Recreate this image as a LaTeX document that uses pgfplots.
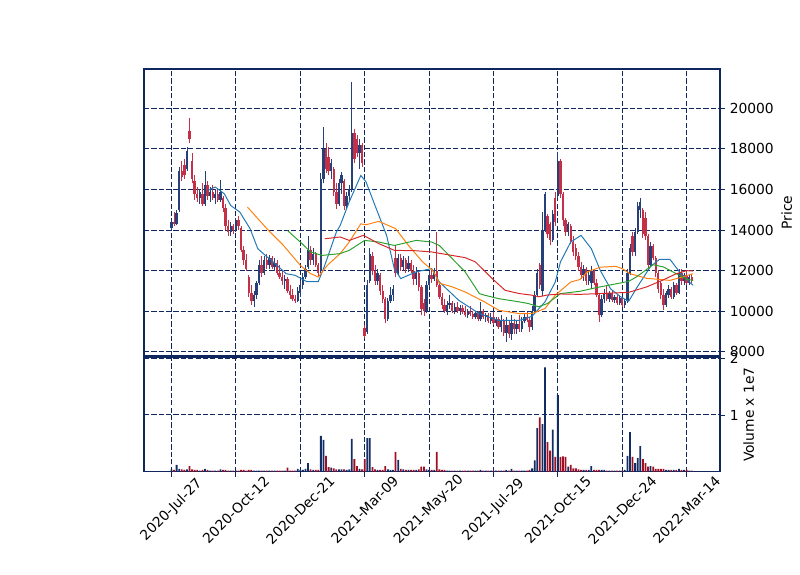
\documentclass[border=0pt]{standalone}
\usepackage{fontspec}
\setmainfont{DejaVu Sans}
\usepackage{pgfplots}
\usepackage{pgfplotstable}
\pgfplotsset{compat=1.18}

\definecolor{frame}{RGB}{16,38,94}
\definecolor{cup}{RGB}{38,64,122}
\definecolor{cdn}{RGB}{196,48,72}
\definecolor{vup}{RGB}{18,44,100}
\definecolor{vdn}{RGB}{160,14,35}
\definecolor{mblue}{RGB}{31,119,180}
\definecolor{morange}{RGB}{255,127,14}
\definecolor{mgreen}{RGB}{44,160,44}
\definecolor{mred}{RGB}{214,39,40}

% x = trading-day index, o h l c = price, v = volume in 1e7
\pgfplotstableread{
x o h l c v
0 14100 14500 13950 14400 0.04
2 14400 14900 14200 14300 0.03
4 14300 15000 14250 14850 0.12
6 15000 17100 14900 16900 0.05
8 16900 17400 16400 16600 0.04
10 17200 17500 16500 16700 0.03
12 17000 18100 16900 17900 0.04
14 18900 19500 18300 18500 0.10
16 17400 17800 16300 16500 0.04
18 16400 16700 15500 15800 0.03
20 15800 16100 15400 15600 0.03
22 15600 16000 15300 15900 0.02
24 15800 16300 15200 15300 0.03
26 15300 16900 15200 16200 0.05
28 16200 16400 15500 15700 0.03
30 15700 16100 15400 15900 0.02
32 15900 16200 15500 15600 0.02
34 15600 16000 15300 15800 0.02
36 15800 16000 15400 15500 0.02
38 15500 16470 15400 15900 0.04
40 15600 15700 14900 15100 0.03
42 15100 15300 14000 14200 0.03
44 14200 14500 13700 13900 0.02
46 13900 14400 13700 14200 0.02
48 14200 14300 13800 14000 0.02
50 14000 14600 13900 14500 0.02
52 14500 14700 14000 14200 0.02
54 14100 14200 12900 13000 0.03
56 13000 13200 12300 12500 0.03
58 12500 12800 12000 12100 0.02
60 11700 11800 10700 10900 0.03
62 10900 11300 10300 10500 0.03
64 10500 11000 10230 10800 0.02
66 10800 11500 10600 11400 0.02
68 11400 12500 11300 12300 0.02
70 12300 12700 11700 11900 0.02
72 11900 12700 11800 12500 0.02
74 12500 12800 12100 12300 0.02
76 12300 12750 12100 12600 0.02
78 12600 12700 12100 12200 0.02
80 12200 12600 12000 12400 0.02
82 12400 12500 11800 11900 0.02
84 11900 12300 11600 11700 0.02
86 11700 12000 11300 11500 0.02
88 11500 11800 11100 11600 0.02
90 11600 11700 10900 11000 0.07
92 11000 11300 10600 10800 0.02
94 10800 11100 10500 10600 0.02
96 10600 10800 10400 10500 0.02
98 10500 11200 10450 11000 0.05
100 10900 11500 10700 11300 0.03
102 11300 11900 11100 11700 0.03
104 11700 12300 11600 12100 0.05
106 12200 13730 12100 13000 0.15
108 13000 13200 12300 12500 0.04
110 12500 13100 12300 12800 0.03
112 12800 12900 12200 12300 0.03
114 12300 12400 11700 11900 0.03
116 12000 16800 11900 16500 0.63
118 16500 19070 16300 18000 0.56
120 18000 18300 16800 17000 0.28
122 17600 18100 16700 16900 0.08
124 16900 17500 16500 17300 0.07
126 17000 17100 15700 15900 0.06
128 15900 16300 15050 15300 0.04
130 15300 16500 15200 16300 0.04
132 16300 16870 15800 16700 0.04
134 16400 16500 15000 15200 0.04
136 15200 15900 15050 15700 0.03
138 15700 16200 15400 16000 0.04
140 16000 21280 15900 18800 0.58
142 18800 19000 17300 17500 0.22
144 18500 18700 17600 17800 0.10
146 17800 18500 17000 18200 0.05
148 18200 18300 17100 17300 0.04
150 9150 9300 8660 8800 0.22
152 9000 11550 8900 11300 0.59
154 11500 13100 11400 12800 0.59
156 12700 12900 11800 12000 0.08
158 12000 12300 11300 11500 0.04
160 11500 12100 11300 11900 0.03
162 11800 11900 10800 11000 0.03
164 11000 11300 10400 10600 0.03
166 10600 10700 9400 9600 0.10
168 9600 10640 9500 10500 0.04
170 10500 11200 10400 10800 0.03
172 10800 11300 10500 11100 0.03
174 12600 13240 11700 11900 0.35
176 11900 12800 11800 12600 0.21
178 12600 12800 12000 12200 0.05
180 12200 12700 12000 12500 0.04
182 12500 12600 11900 12100 0.03
184 12100 12700 11950 12400 0.03
186 12400 12500 11900 12000 0.03
188 12000 12300 11300 11600 0.03
190 11600 12200 11300 11900 0.03
192 11900 12000 11000 11200 0.04
194 11200 11300 9800 10100 0.09
196 10400 10600 9780 10000 0.09
198 10000 11500 9900 11300 0.04
200 11300 12000 11200 11800 0.03
202 11800 12100 11400 11600 0.03
204 11600 12150 11500 12000 0.03
206 12000 13900 11200 11300 0.35
208 11300 11400 10600 10700 0.04
210 10700 10900 10100 10300 0.03
212 10300 10600 9900 10000 0.03
214 10000 10500 9800 10300 0.02
216 10300 10800 10100 10400 0.02
218 10400 10500 9900 10000 0.02
220 10000 10400 9850 10200 0.02
222 10200 10450 9900 10000 0.02
224 10000 10300 9800 10150 0.02
226 10150 10300 9850 9950 0.02
228 9950 10250 9700 9800 0.02
230 9800 10100 9650 10000 0.02
232 10000 10280 9750 9850 0.02
234 9850 10000 9620 9700 0.02
236 9700 10000 9600 9900 0.02
238 9900 10000 9500 9600 0.02
240 9600 10450 9500 10000 0.03
242 10000 10100 9600 9700 0.02
244 9700 9900 9450 9800 0.02
246 9800 9900 9400 9500 0.02
248 9500 9900 9350 9700 0.02
250 9700 9950 9300 9400 0.02
252 9400 9700 9250 9600 0.02
254 9600 9700 9100 9200 0.02
256 9200 9800 9000 9500 0.02
258 9500 9600 8800 8950 0.02
260 8950 9700 8500 9300 0.03
262 9300 9500 8700 8900 0.02
264 8900 9800 8600 9400 0.05
266 9400 9600 8900 9100 0.02
268 9100 9500 8900 9350 0.02
270 9350 9790 8970 9100 0.02
272 9100 9700 9000 9500 0.02
274 9500 9900 9400 9700 0.02
276 9700 9960 9450 9550 0.02
278 9550 9700 9000 9200 0.03
280 9200 10280 9050 10000 0.06
282 10000 11000 9900 10800 0.20
284 10800 12100 10700 11900 0.77
286 12300 12400 11100 11300 0.96
288 11000 14900 10770 14000 0.84
290 14000 15900 13900 15800 1.84
292 14700 14800 13600 13800 0.52
294 14300 14400 13240 13500 0.37
296 13500 15000 13400 14800 0.74
298 15600 15900 14200 14400 0.26
300 15700 17840 15600 17400 1.35
302 17400 17500 15600 15800 0.26
304 15800 15900 14200 14500 0.27
306 14500 14600 13720 13900 0.26
308 13900 14410 13700 14300 0.09
310 14200 14300 13300 13400 0.12
312 13400 13700 12700 12900 0.06
314 13100 13300 12500 12700 0.06
316 12700 12900 12000 12200 0.04
318 12200 12440 11600 11800 0.03
320 11800 12300 11500 12100 0.03
322 12100 12200 11300 11500 0.03
324 11500 11950 11300 11800 0.03
326 11400 12250 11100 12000 0.10
328 12000 12100 11300 11400 0.03
330 11400 11600 10700 10800 0.03
332 10800 10900 9490 9800 0.03
334 9800 10800 9700 10600 0.03
336 10600 11100 10400 10900 0.03
338 10900 11270 10500 10600 0.02
340 10600 11000 10450 10900 0.02
342 10900 11000 10450 10550 0.02
344 10550 10800 10400 10700 0.02
346 10700 10800 10300 10400 0.02
348 10400 10750 10300 10650 0.02
350 10650 10700 10200 10300 0.02
352 10300 10600 10150 10500 0.03
354 10500 12100 10400 11900 0.28
356 11900 13300 11800 13100 0.70
358 13700 13900 12700 12900 0.26
360 12900 14100 12700 13900 0.15
362 13900 15400 13800 15200 0.24
364 15000 15580 14600 15400 0.45
366 15000 15100 13600 13800 0.22
368 14600 14900 13500 13700 0.15
370 13700 13800 12100 12300 0.09
372 12300 13400 12200 13200 0.10
374 13200 13300 12500 12600 0.09
376 12600 12700 11700 11900 0.05
378 11900 12050 10900 11100 0.05
380 11400 11500 10600 10800 0.05
382 10800 11100 10050 10300 0.05
384 10300 11000 10200 10900 0.03
386 10800 11300 10650 11100 0.03
388 11100 11200 10600 10700 0.03
390 10700 11440 10600 11300 0.03
392 11300 11400 10800 10900 0.03
394 10900 12100 10850 11900 0.05
396 11900 12100 11300 11500 0.03
398 11500 11900 11300 11800 0.03
400 11800 12000 11300 11400 0.03
402 11400 11800 11300 11700 0.02
404 11700 11850 11400 11500 0.02
}\candles

\pgfplotsset{
  mpf/.style={
    scale only axis,
    anchor=south west,
    xmin=-21.35, xmax=425.9,
    xtick={0,50,...,400},
    axis line style={frame, line width=0.8bp},
    grid=major,
    major grid style={frame, line width=0.72bp, dash pattern=on 3.7bp off 1.6bp},
    tick align=outside,
    major tick length=3.5bp,
    tick style={frame, line width=0.6bp},
    ytick pos=right,
    yticklabel pos=right,
    scaled y ticks=false,
    ticklabel style={font=\fontsize{10}{12}\selectfont},
    label style={font=\fontsize{10}{12}\selectfont},
    /pgf/number format/assume math mode=true,
    /pgf/number format/1000 sep={},
    clip=true,
  },
  wick/.style={draw=none, mark=none, forget plot},
}

\begin{document}
\begin{tikzpicture}
\path[use as bounding box] (0,0) rectangle (576bp,414bp);

% price panel
\begin{axis}[mpf,
  at={(103.68bp,157.68bp)},
  width=414.72bp, height=206.64bp,
  ymin=7793, ymax=21938,
  ytick={8000,10000,...,20000},
  xticklabels={},
  xtick style={draw=none},
  ylabel={Price},
  ylabel style={at={(axis description cs:1.116,0.5)}, anchor=center},
]
% wicks
\addplot[wick, restrict expr to domain={\thisrow{c}-\thisrow{o}}{0:100000},
  error bars/.cd, y dir=plus, y explicit, error mark=none,
  error bar style={line width=0.6bp, draw=cup}]
  table[x=x, y=l, y error plus expr=\thisrow{h}-\thisrow{l}] {\candles};
\addplot[wick, restrict expr to domain={\thisrow{c}-\thisrow{o}}{-100000:-0.5},
  error bars/.cd, y dir=plus, y explicit, error mark=none,
  error bar style={line width=0.6bp, draw=cdn}]
  table[x=x, y=l, y error plus expr=\thisrow{h}-\thisrow{l}] {\candles};
% bodies
\addplot[wick, restrict expr to domain={\thisrow{c}-\thisrow{o}}{0:100000},
  error bars/.cd, y dir=plus, y explicit, error mark=none,
  error bar style={line width=1.7bp, draw=cup}]
  table[x=x, y=o, y error plus expr=\thisrow{c}-\thisrow{o}] {\candles};
\addplot[wick, restrict expr to domain={\thisrow{c}-\thisrow{o}}{-100000:-0.5},
  error bars/.cd, y dir=plus, y explicit, error mark=none,
  error bar style={line width=1.7bp, draw=cdn}]
  table[x=x, y=c, y error plus expr=\thisrow{o}-\thisrow{c}] {\candles};

% moving averages
\addplot[mblue, line width=0.7bp] coordinates {
(28,15950)(34,16120)(41,15790)(46,15210)(53,14890)(61,14070)(67,13080)(74,12690)
(82,12260)(89,11850)(96,11770)(105,11460)(114,11460)(119,12260)(128,13900)(131,14230)
(138,15390)(147,16690)(151,16380)(159,15050)(167,13740)(173,12100)(178,11610)(190,11940)
(202,12100)(208,11440)(223,10540)(239,9880)(254,9550)(270,9550)(280,9750)(290,10460)
(298,11440)(302,12430)(310,13410)(318,13740)(326,13080)(333,12000)(341,11100)(349,10700)
(355,10490)(362,11230)(372,12210)(379,12560)(387,12560)(395,11890)(403,11390)(405,11280)};
\addplot[morange, line width=0.7bp] coordinates {
(59,15130)(74,14070)(87,13240)(100,12260)(108,11850)(114,11690)(121,12260)(128,12670)
(131,12840)(138,13410)(147,14310)(151,14260)(161,14430)(174,14070)(184,13240)(195,12430)
(203,12000)(208,11380)(218,11200)(228,10950)(243,10460)(254,10050)(270,9880)(280,9890)
(290,10130)(298,10790)(310,11440)(317,11560)(323,11940)(333,12170)(345,12210)(350,12100)
(356,11850)(369,11620)(387,11520)(397,11690)(405,11850)};
\addplot[mgreen, line width=0.7bp] coordinates {
(90,13980)(100,13410)(108,12920)(117,12750)(131,12840)(138,13000)(150,13490)(161,13410)
(173,13240)(190,13490)(202,13410)(208,13240)(228,11940)(239,10870)(243,10790)(254,10620)
(270,10460)(277,10380)(285,10220)(292,10380)(302,10870)(317,10980)(329,11150)(341,11300)
(355,11470)(361,11690)(374,12290)(382,12180)(392,11850)(400,11570)(405,11520)};
\addplot[mred, line width=0.7bp] coordinates {
(119,13570)(131,13660)(138,13490)(149,13740)(161,13330)(173,13000)(190,12980)(202,12920)
(228,12640)(236,12430)(249,11610)(259,11030)(270,10870)(280,10790)(285,10710)(292,10800)
(302,10850)(317,10830)(355,10930)(369,11200)(381,11520)(392,11850)(400,12000)(405,11980)};
\end{axis}

% volume panel
\begin{axis}[mpf,
  at={(103.68bp,74.38bp)},
  width=414.72bp, height=82.22bp,
  ymin=0, ymax=2.014,
  ytick={1,2},
  xtick pos=bottom,
  xticklabels={2020-Jul-27,2020-Oct-12,2020-Dec-21,2021-Mar-09,2021-May-20,2021-Jul-29,2021-Oct-15,2021-Dec-24,2022-Mar-14},
  xticklabel style={rotate=45, anchor=center, xshift=-17bp, yshift=-17bp},
  ylabel={Volume x 1e7},
  ylabel style={at={(axis description cs:1.05,0.5)}, anchor=center},
]
\addplot[ybar, bar width=1.4, bar shift=0pt, fill=vup, draw=none,
  restrict expr to domain={\thisrow{c}-\thisrow{o}}{0:100000}]
  table[x=x, y=v] {\candles};
\addplot[ybar, bar width=1.4, bar shift=0pt, fill=vdn, draw=none,
  restrict expr to domain={\thisrow{c}-\thisrow{o}}{-100000:-0.5}]
  table[x=x, y=v] {\candles};
\end{axis}
\end{tikzpicture}
\end{document}
